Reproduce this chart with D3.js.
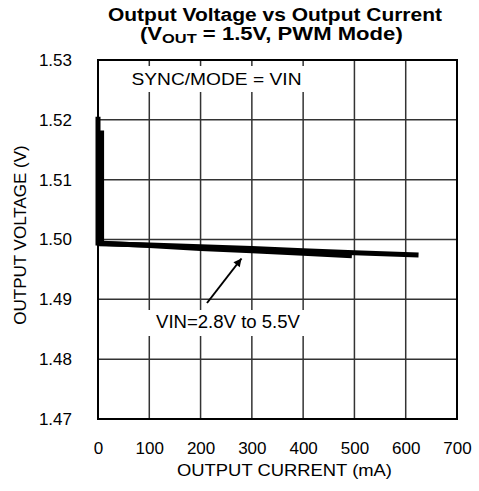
<!DOCTYPE html>
<html><head><meta charset="utf-8">
<script src="https://cdn.jsdelivr.net/npm/d3@7"></script>
<style>body{margin:0;background:#fff}svg{display:block;font-family:"Liberation Sans",Arial,sans-serif}</style>
</head><body>
<script>
// Data
const xTicks = [0, 100, 200, 300, 400, 500, 600, 700];
const yTicks = [1.47, 1.48, 1.49, 1.50, 1.51, 1.52, 1.53];
const yTickLabels = ["1.47", "1.48", "1.49", "1.50", "1.51", "1.52", "1.53"];
const seriesA_current = [0, 0, 100, 200, 300, 400, 495];
const seriesA_voltage = [1.5205, 1.4994, 1.4990, 1.4985, 1.4981, 1.4977, 1.4973];
const seriesB_current = [7, 7, 100, 200, 300, 400, 500, 625];
const seriesB_voltage = [1.5182, 1.4993, 1.4991, 1.4988, 1.4985, 1.4981, 1.4978, 1.4974];

const W = 479, H = 491;
const m = {left: 98, right: 22, top: 60, bottom: 72};
const svg = d3.select("body").append("svg").attr("width", W).attr("height", H);

const x = d3.scaleLinear().domain([0, 700]).range([m.left, W - m.right]);
const y = d3.scaleLinear().domain([1.47, 1.53]).range([H - m.bottom, m.top]);

// grid
const g = svg.append("g");
g.selectAll(".vx").data(xTicks.slice(1, -1)).join("line")
  .attr("x1", d => x(d)).attr("x2", d => x(d)).attr("y1", y(1.47)).attr("y2", y(1.53))
  .attr("stroke", "#333").attr("stroke-width", 1.5);
g.selectAll(".hy").data(yTicks.slice(1, -1)).join("line")
  .attr("x1", x(0)).attr("x2", x(700)).attr("y1", d => y(d)).attr("y2", d => y(d))
  .attr("stroke", "#333").attr("stroke-width", 1.5);

// white boxes behind annotation text
svg.append("rect").attr("x", 125).attr("y", 66).attr("width", 185).attr("height", 26).attr("fill", "#fff");
svg.append("rect").attr("x", 140).attr("y", 310).attr("width", 170).attr("height", 26).attr("fill", "#fff");

// border
svg.append("rect").attr("x", x(0)).attr("y", y(1.53)).attr("width", x(700) - x(0)).attr("height", y(1.47) - y(1.53))
  .attr("fill", "none").attr("stroke", "#000").attr("stroke-width", 2);

// data lines
const line = d3.line().x(d => x(d[0])).y(d => y(d[1]));
const dataA = seriesA_current.map((c, i) => [c, seriesA_voltage[i]]);
const dataB = seriesB_current.map((c, i) => [c, seriesB_voltage[i]]);
[dataA, dataB].forEach(d => {
  svg.append("path").attr("d", line(d)).attr("fill", "none").attr("stroke", "#000")
    .attr("stroke-width", 5).attr("stroke-linejoin", "miter");
});

// axes labels
const axisX = d3.axisBottom(x).tickValues(xTicks).tickSize(0).tickPadding(0);
const ax = svg.append("g").attr("transform", `translate(0,${H - m.bottom})`).call(axisX);
ax.select(".domain").remove();
ax.selectAll("text").attr("y", 35).attr("dy", 0).attr("font-size", 17)
  .attr("font-family", "Liberation Sans, Arial, sans-serif").attr("fill", "#000");

const axisY = d3.axisLeft(y).tickValues(yTicks).tickFormat((d, i) => yTickLabels[i]).tickSize(0).tickPadding(26);
const ay = svg.append("g").attr("transform", `translate(${m.left},0)`).call(axisY);
ay.select(".domain").remove();
ay.selectAll("text").attr("font-size", 17).attr("font-family", "Liberation Sans, Arial, sans-serif").attr("fill", "#000");

svg.append("text").attr("x", 177).attr("y", 476)
  .attr("font-size", 17).attr("textLength", 215).attr("lengthAdjust", "spacingAndGlyphs").text("OUTPUT CURRENT (mA)");
svg.append("text").attr("transform", "translate(26,235) rotate(-90)").attr("text-anchor", "middle")
  .attr("font-size", 17).text("OUTPUT VOLTAGE (V)");

// title
svg.append("text").attr("x", 108).attr("y", 21)
  .attr("font-size", 17.5).attr("font-weight", "bold")
  .attr("textLength", 334).attr("lengthAdjust", "spacingAndGlyphs").text("Output Voltage vs Output Current");
const t2 = svg.append("text").attr("x", 140).attr("y", 40.5)
  .attr("font-size", 17.5).attr("font-weight", "bold");
t2.append("tspan").text("(V");
t2.append("tspan").attr("font-size", 13).attr("dy", 3).text("OUT");
t2.append("tspan").attr("dy", -3).text(" = 1.5V, PWM Mode)");
// stretch line 2 horizontally to the reference width
const bb = t2.node().getBBox();
t2.attr("transform", `translate(140,0) scale(${263 / bb.width},1) translate(-140,0)`);

// annotations
svg.append("text").attr("x", 131.5).attr("y", 85).attr("font-size", 17)
  .attr("textLength", 170).attr("lengthAdjust", "spacingAndGlyphs").text("SYNC/MODE = VIN");
svg.append("text").attr("x", 156).attr("y", 328).attr("font-size", 17.5)
  .attr("textLength", 144).attr("lengthAdjust", "spacingAndGlyphs").text("VIN=2.8V to 5.5V");

svg.append("defs").append("marker").attr("id", "ah").attr("viewBox", "0 0 10 10")
  .attr("refX", 10).attr("refY", 5).attr("markerWidth", 11).attr("markerHeight", 8)
  .attr("markerUnits", "userSpaceOnUse").attr("orient", "auto")
  .append("path").attr("d", "M0,0L10,5L0,10z").attr("fill", "#000");
svg.append("line").attr("x1", 207).attr("y1", 303).attr("x2", 241.5).attr("y2", 258.5)
  .attr("stroke", "#000").attr("stroke-width", 2).attr("marker-end", "url(#ah)");
</script>
</body></html>
